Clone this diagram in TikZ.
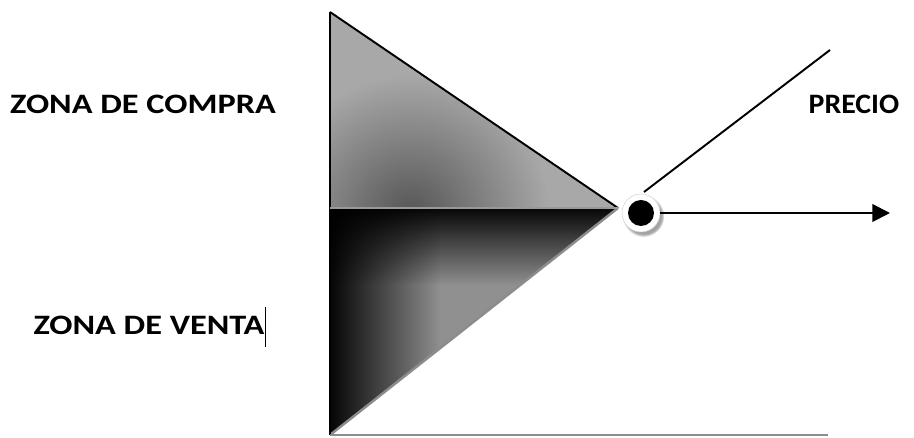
\documentclass[tikz,border=0pt]{standalone}
\usepackage{fontspec}
\setmainfont{Carlito}
\usepackage{tikz}
\usetikzlibrary{arrows.meta,positioning,shadows,fadings}
\definecolor{midgray}{HTML}{A8A8A8}
\definecolor{darkgray}{HTML}{555555}
\definecolor{edgegray}{HTML}{8C8C8C}
\definecolor{lowgray}{HTML}{909090}
\tikzfading[name=fadeabajo, top color=transparent!0, bottom color=transparent!100]
\tikzfading[name=fadederecha, left color=transparent!0, right color=transparent!100]

\begin{document}
\begin{tikzpicture}[
  x=0.02cm, y=-0.02cm,
  zona/.style={font=\bfseries\fontsize{16}{19}\selectfont, inner sep=0pt, xscale=1.22, transform shape},
  anillo/.style={circle, fill=white, draw=gray!35, line width=0.3pt, minimum size=0.76cm, inner sep=0pt,
    circular drop shadow={shadow xshift=1.3pt, shadow yshift=-1.6pt, fill=gray!80, opacity=0.9}},
  arrow/.style={-{Triangle[length=10pt,width=10pt]}, line width=1.1pt, draw=black}
]
\useasboundingbox (0,0) rectangle (914,438);

% triangle corners
\coordinate (arriba) at (330,12);
\coordinate (medio) at (330,208);
\coordinate (abajo) at (330,435);
\coordinate (vertice) at (618,208);
\coordinate (base) at (828,435);

% upper half (buying zone)
\begin{scope}
  \clip (arriba) -- (vertice) -- (medio) -- cycle;
  \fill[midgray] (arriba) -- (vertice) -- (medio) -- cycle;
  \shade[inner color=darkgray, outer color=midgray] (410,215) circle (140);
\end{scope}

% lower half (selling zone)
\begin{scope}
  \clip (medio) -- (vertice) -- (abajo) -- cycle;
  \fill[lowgray] (medio) -- (vertice) -- (abajo) -- cycle;
  \fill[black, path fading=fadeabajo, fit fading=true] (330,204) rectangle (618,285);
  \fill[black, path fading=fadederecha, fit fading=true] (326,208) rectangle (440,435);
\end{scope}

\draw[black, line width=1.1pt] (arriba) -- (vertice);
\draw[edgegray, line width=1.4pt] (vertice) -- (abajo);
\draw[black, line width=0.9pt] (arriba) -- (abajo);
\draw[gray!80, line width=0.6pt] (medio) -- (vertice);
\draw[edgegray, line width=1.1pt] (abajo) -- (base);

% price point
\node[anillo] (punto) at (641,213) {};
\fill[black] (punto.center) circle (13);
\coordinate (fin) at (890,213);
\coordinate (inicio) at (644,192);
\coordinate (tope) at (830,50);
\draw[arrow] (punto) -- (fin);
\draw[black, line width=1.1pt] (inicio) -- (tope);

% labels
\node[zona] (compra) at (143,104) {ZONA DE COMPRA};
\node[zona] (venta) at (149,325) {ZONA DE VENTA};
\node[zona, xscale=0.87] (precio) at (854,104) {PRECIO};
\draw[black, line width=0.4pt] (265,307) -- (265,347);

\end{tikzpicture}
\end{document}
